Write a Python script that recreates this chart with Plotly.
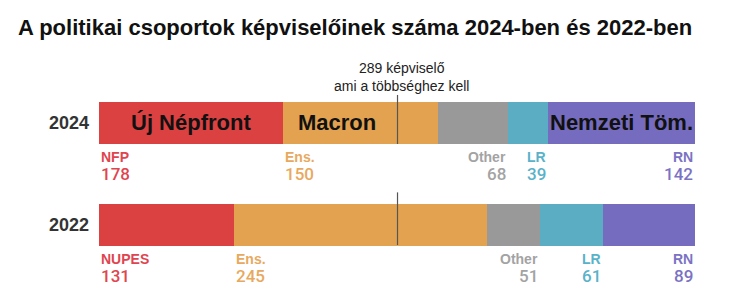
import plotly.graph_objects as go

years = ["2022", "2024"]
parties = ["NFP", "Ens.", "Other", "LR", "RN"]
labels_2024 = ["NFP", "Ens.", "Other", "LR", "RN"]
labels_2022 = ["NUPES", "Ens.", "Other", "LR", "RN"]
seats_2024 = [178, 150, 68, 39, 142]
seats_2022 = [131, 245, 51, 61, 89]
inbar_2024 = ["Új Népfront", "Macron", "", "", "Nemzeti Töm."]
majority = 289
total = 577

bar_colors = ["#dc4141", "#e3a250", "#999999", "#5badc4", "#756cbf"]
text_colors = ["#e0454f", "#e8a95e", "#a3a3a3", "#5ab2c9", "#7b72c4"]
anchors = ["left", "left", "right", "right", "right"]

fig = go.Figure()
for i, p in enumerate(parties):
    fig.add_trace(go.Bar(
        y=years, x=[seats_2022[i], seats_2024[i]], orientation="h",
        marker=dict(color=bar_colors[i], line=dict(width=0)),
        width=0.41, name=p, showlegend=False, hoverinfo="skip"))

annots = []
for year, vals, labs in [("2024", seats_2024, labels_2024), ("2022", seats_2022, labels_2022)]:
    yi = years.index(year)
    start = 0
    for i, v in enumerate(vals):
        end = start + v
        xpos = start if anchors[i] == "left" else end
        annots.append(dict(x=xpos, y=yi, text=f"<b>{labs[i]}</b>", showarrow=False,
                           xanchor=anchors[i], yanchor="middle", yshift=-34,
                           font=dict(family="Liberation Sans, Arial", size=14, color=text_colors[i])))
        annots.append(dict(x=xpos, y=yi, text=str(v), showarrow=False,
                           xanchor=anchors[i], yanchor="middle", yshift=-51,
                           font=dict(family="Roboto", size=17, weight=500, color=text_colors[i])))
        if year == "2024" and inbar_2024[i]:
            cx = start + v / 2
            if inbar_2024[i] == "Macron":
                cx = start + (majority - start) / 2 - 3
            annots.append(dict(x=cx, y=yi, text=f"<b>{inbar_2024[i]}</b>", showarrow=False,
                               xanchor="center", yanchor="middle", yshift=1,
                               font=dict(family="Liberation Sans, Arial", size=22, color="#111111")))
        start = end
    annots.append(dict(x=0, xref="paper", y=yi, text=f"<b>{year}</b>", showarrow=False,
                       xanchor="right", yanchor="middle", xshift=-8,
                       font=dict(family="Liberation Sans, Arial", size=18, color="#333333")))

annots.append(dict(x=majority, y=years.index("2024"), text="289 képviselő<br>ami a többséghez kell",
                   showarrow=False, xanchor="center", yanchor="bottom", yshift=27, xshift=4,
                   font=dict(family="Liberation Sans, Arial", size=14, color="#222222")))

shapes = [
    dict(type="line", xref="x", yref="y", x0=majority, x1=majority, y0=1 - 0.206, y1=1 + 0.275,
         line=dict(color="#555555", width=1.2), layer="above"),
    dict(type="line", xref="x", yref="y", x0=majority, x1=majority, y0=-0.196, y1=0.32,
         line=dict(color="#555555", width=1.2), layer="above"),
]

fig.update_layout(
    width=730, height=301,
    margin=dict(l=99, r=35, t=60, b=11),
    barmode="stack", bargap=0,
    plot_bgcolor="white", paper_bgcolor="white",
    title=dict(text="<b>A politikai csoportok képviselőinek száma 2024-ben és 2022-ben</b>",
               x=18 / 730, xanchor="left", y=1 - 27 / 301, yanchor="middle",
               font=dict(family="Liberation Sans, Arial", size=22, color="#111111")),
    xaxis=dict(range=[0, total], visible=False, fixedrange=True),
    yaxis=dict(type="category", range=[-0.637, 1.6176], visible=False, categoryorder="array",
               categoryarray=years, fixedrange=True),
    annotations=annots, shapes=shapes,
)

fig.write_html("out.html")
